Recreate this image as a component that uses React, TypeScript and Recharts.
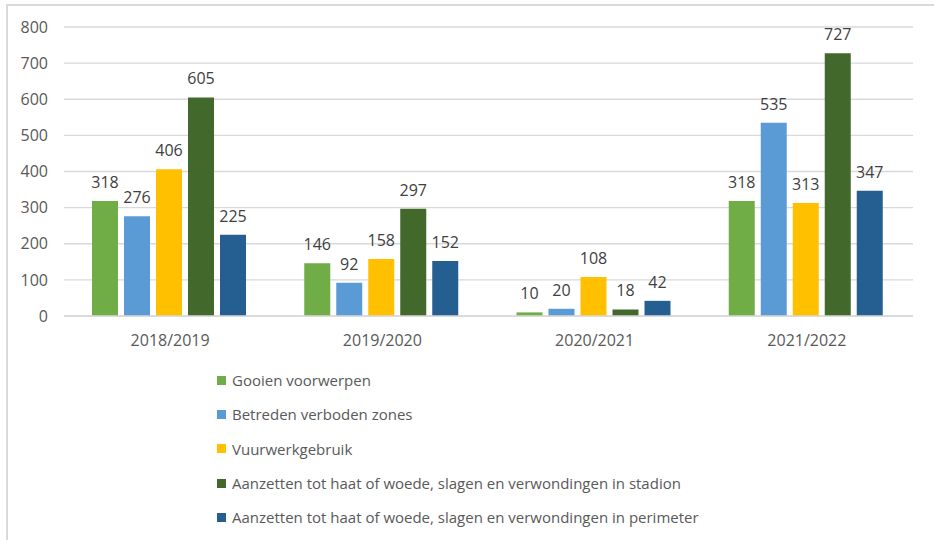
import React from 'react';
import { BarChart, Bar, XAxis, YAxis, CartesianGrid, LabelList, Legend } from 'recharts';

const seasons = ['2018/2019', '2019/2020', '2020/2021', '2021/2022'];
const gooien = [318, 146, 10, 318];
const betreden = [276, 92, 20, 535];
const vuurwerk = [406, 158, 108, 313];
const stadion = [605, 297, 18, 727];
const perimeter = [225, 152, 42, 347];
const yTicks = [0, 100, 200, 300, 400, 500, 600, 700, 800];

const seriesNames = [
  'Gooien voorwerpen',
  'Betreden verboden zones',
  'Vuurwerkgebruik',
  'Aanzetten tot haat of woede, slagen en verwondingen in stadion',
  'Aanzetten tot haat of woede, slagen en verwondingen in perimeter',
];
const seriesColors = ['#70AD47', '#5B9BD5', '#FFC000', '#43682B', '#255E91'];
const seriesKeys = ['gooien', 'betreden', 'vuurwerk', 'stadion', 'perimeter'];

const data = seasons.map((s, i) => ({
  season: s,
  gooien: gooien[i],
  betreden: betreden[i],
  vuurwerk: vuurwerk[i],
  stadion: stadion[i],
  perimeter: perimeter[i],
}));

const FONT = '"Open Sans", sans-serif';

const LegendContent = () => {
  return (
    <div style={{ fontFamily: FONT, fontSize: 15, color: '#595959' }}>
      {seriesNames.map((name, i) => (
        <div key={i} style={{ display: 'flex', alignItems: 'center', height: 34.3 }}>
          <span style={{ display: 'inline-block', width: 9, height: 9, background: seriesColors[i], marginRight: 6 }} />
          <span style={{ whiteSpace: 'nowrap' }}>{name}</span>
        </div>
      ))}
    </div>
  );
};

export default function App() {
  return (
    <div style={{ position: 'absolute', left: 0, top: 0, width: 934, height: 540, overflow: 'hidden', background: '#fff' }}>
      <div style={{ position: 'absolute', left: 6, top: 4, width: 1000, height: 600, borderLeft: '2px solid #d9d9d9', borderTop: '2px solid #d9d9d9' }} />
      <div style={{ position: 'absolute', left: 0, top: 0 }}>
        <BarChart
          width={934}
          height={540}
          data={data}
          margin={{ top: 27, right: 21, left: 14, bottom: 194 }}
          barCategoryGap={28}
          barGap={6}
        >
          <CartesianGrid vertical={false} stroke="#d9d9d9" strokeWidth={1.3} />
          <XAxis
            dataKey="season"
            height={30}
            axisLine={{ stroke: '#d9d9d9', strokeWidth: 1.3 }}
            tickLine={false}
            tickSize={6}
            tickMargin={13}
            tick={{ fill: '#595959', fontSize: 16, fontFamily: FONT }}
          />
          <YAxis
            width={50}
            domain={[0, 800]}
            ticks={yTicks}
            axisLine={false}
            tickLine={false}
            tickSize={6}
            tickMargin={10}
            tick={{ fill: '#595959', fontSize: 16, fontFamily: FONT }}
          />
          <Legend
            layout="vertical"
            align="center"
            verticalAlign="middle"
            content={<LegendContent />}
            wrapperStyle={{ top: 363, left: 217, width: 600, height: 175 }}
          />
          {seriesKeys.map((k, i) => (
            <Bar key={k} dataKey={k} name={seriesNames[i]} fill={seriesColors[i]} isAnimationActive={false}>
              <LabelList
                dataKey={k}
                position="top"
                offset={13}
                fill="#404040"
                fontSize={16}
                fontFamily={FONT}
              />
            </Bar>
          ))}
        </BarChart>
      </div>
    </div>
  );
}
